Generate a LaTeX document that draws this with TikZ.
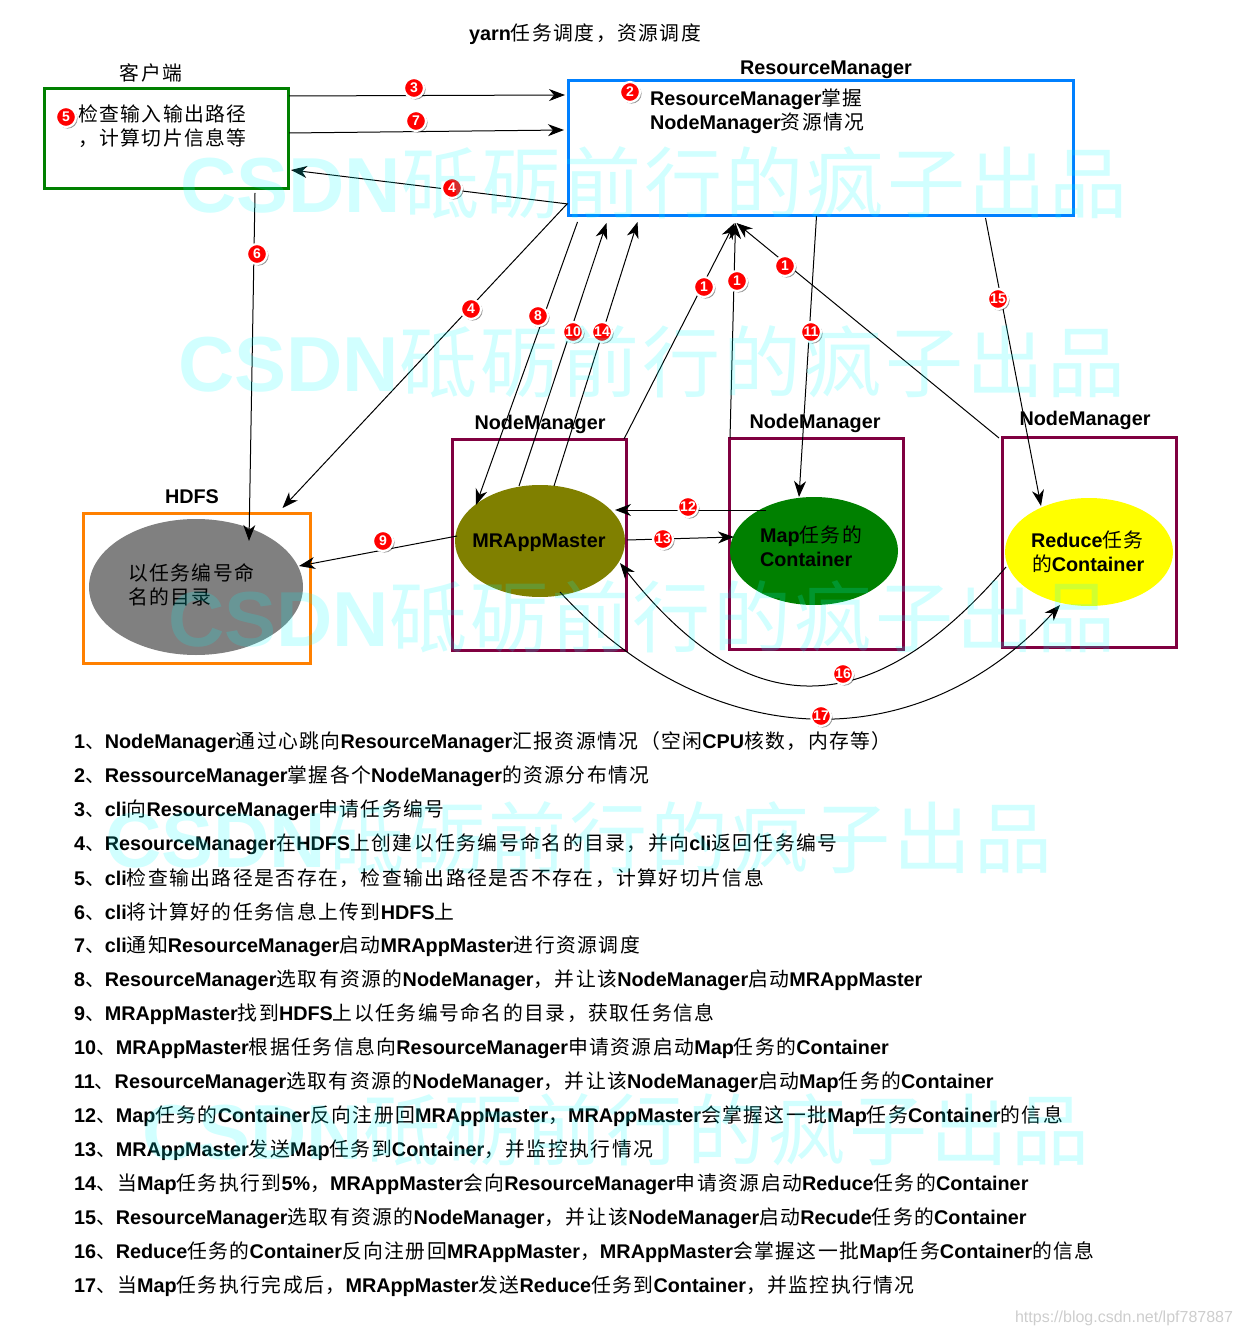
\documentclass[tikz,border=0pt]{standalone}
\usepackage{fontspec}
\usetikzlibrary{arrows.meta,shapes.geometric,shadows}
\setmainfont{Liberation Sans}
\newfontfamily\latf{Liberation Sans}
\newfontfamily\cjkf[LetterSpace=7.5]{Noto Sans CJK SC}
\newfontfamily\cjkw[LetterSpace=4]{Noto Sans CJK SC}
\newcommand{\tocjk}{\cjkf\mdseries}
\newcommand{\tolat}{\latf\bfseries}
% automatic switching between the Latin and the CJK font
\newcount\cc
\newcommand{\setcjkrange}[2]{\cc=#1 \loop\ifnum\cc<#2 \XeTeXcharclass\cc=9 \advance\cc by 1 \repeat}
\setcjkrange{"4E00}{"A000}
\setcjkrange{"3000}{"3040}
\setcjkrange{"FF00}{"FFF0}
\XeTeXinterchartoks 0 9 = {\tocjk}
\XeTeXinterchartoks 9 0 = {\tolat}
\XeTeXinterchartoks 4095 9 = {\tocjk}
\XeTeXinterchartoks 9 4095 = {\tolat}
\XeTeXinterchartokenstate=1
\definecolor{cgreen}{RGB}{0,128,0}
\definecolor{cblue}{RGB}{0,128,255}
\definecolor{corange}{RGB}{255,128,0}
\definecolor{cplum}{RGB}{128,0,64}
\definecolor{cgray}{RGB}{128,128,128}
\definecolor{colive}{RGB}{128,128,0}
\definecolor{cyellow}{RGB}{255,255,0}
\definecolor{curl}{RGB}{205,205,205}
\definecolor{cwater}{RGB}{0,255,255}
\tikzset{
  px/.style={x=0.5pt,y=-0.5pt},
  txt/.style={inner sep=0pt,outer sep=0pt,yshift=-0.5pt,font=\fontsize{9.9pt}{11pt}\selectfont\tolat},
  lft/.style={txt,anchor=west},
  boxc/.style={draw=#1,line width=1.5pt,inner sep=0pt,outer sep=0pt,rectangle},
  oval/.style={ellipse,fill=#1,inner sep=0pt,outer sep=0pt},
  badge/.style={circle,fill=red,draw=white,line width=1.1pt,minimum size=10pt,inner sep=0pt,outer sep=0pt,
    text=white,font=\fontsize{7pt}{8pt}\selectfont\tolat,
    drop shadow={shadow xshift=0.8pt,shadow yshift=-0.8pt,fill=black,opacity=.4}},
  arr/.style={draw=black,line width=0.5pt,-{Stealth[length=8pt,width=6pt,inset=2.5pt]}},
  wmark/.style={inner sep=0pt,outer sep=0pt,anchor=west,text=cwater,text opacity=.18,
    font=\fontsize{39pt}{40pt}\selectfont\tolat},
}
\newcommand{\wm}[2]{\node[wmark] (#1) at #2 {\def\tocjk{\cjkw\mdseries}CSDN砥砺前行的疯子出品};}
\begin{document}
\begin{tikzpicture}[px]
\useasboundingbox (0,0) rectangle (1242,1336);

% boxes
\node[boxc=cgreen,minimum width=122pt,minimum height=50pt] (client) at (166,139) {};
\node[boxc=cblue,minimum width=252.5pt,minimum height=67.5pt] (rm) at (820.5,148.5) {};
\node[boxc=corange,minimum width=113.5pt,minimum height=75pt] (hdfs) at (196.5,588) {};
\node[boxc=cplum,minimum width=87pt,minimum height=105.5pt] (nma) at (539,544.5) {};
\node[boxc=cplum,minimum width=87pt,minimum height=105.5pt] (nmb) at (816,543.5) {};
\node[boxc=cplum,minimum width=87pt,minimum height=105pt] (nmc) at (1089,542) {};

% ellipses
\node[oval=cgray,minimum width=107pt,minimum height=68pt] (dir) at (196,587) {};
\node[oval=colive,minimum width=85pt,minimum height=56pt] (mram) at (540,541) {};
\node[oval=cgreen,minimum width=84pt,minimum height=54pt] (mapc) at (814,551) {};
\node[oval=cyellow,minimum width=84pt,minimum height=54pt] (redc) at (1089,552) {};

% labels
\node[txt] (title) at (585,33) {yarn任务调度，资源调度};
\node[txt] (lclient) at (151,72) {客户端};
\node[txt] (lrm) at (826,69) {ResourceManager};
\node[lft] (trma) at (650,98) {ResourceManager掌握};
\node[lft] (trmb) at (650,122) {NodeManager资源情况};
\node[lft] (tca) at (78,113) {检查输入输出路径};
\node[lft] (tcb) at (78,137) {，计算切片信息等};
\node[txt] (lna) at (540,423) {NodeManager};
\node[txt] (lnb) at (815,422) {NodeManager};
\node[txt] (lnc) at (1085,419) {NodeManager};
\node[txt] (lh) at (192,496) {HDFS};
\node[lft] (tda) at (128,572) {以任务编号命};
\node[lft] (tdb) at (128,596) {名的目录};
\node[txt] (tm) at (539,542) {MRAppMaster};
\node[lft] (tmc) at (760,535) {Map任务的};
\node[lft] (tmd) at (760,558) {Container};
\node[lft] (tre) at (1031,539) {Reduce任务};
\node[lft] (trf) at (1032,563) {的Container};

% connectors
\draw[arr] ([shift={(1,-43)}]client.east) -- ([shift={(-3,-53.5)}]rm.west);
\draw[arr] ([shift={(1,-6)}]client.east) -- ([shift={(-4,-18.5)}]rm.west);
\draw[arr] ([shift={(0,55.5)}]rm.west) -- ([shift={(3,31)}]client.east);
\draw[arr] ([shift={(89,4)}]client.south) -- ([shift={(53,22)}]dir.north);
\draw[arr] ([shift={(-1,55.5)}]rm.west) -- ([shift={(86,-5)}]hdfs.north);
\draw[arr] ([shift={(-243,6)}]rm.south) -- ([shift={(21,-36)}]mram.west);
\draw[arr] ([shift={(-21,1)}]mram.north) -- ([shift={(-214,7)}]rm.south);
\draw[arr] ([shift={(14,1)}]mram.north) -- ([shift={(-183,6)}]rm.south);
\draw[arr] ([shift={(-2,0)}]nma.north east) -- ([shift={(-86,7)}]rm.south);
\draw[arr] ([shift={(1,0)}]nmb.north west) -- ([shift={(-85,7)}]rm.south);
\draw[arr] ([shift={(-3,1)}]nmc.north west) -- ([shift={(-84,7)}]rm.south);
\draw[arr] ([shift={(-4,0)}]rm.south) -- ([shift={(-15,0)}]mapc.north);
\draw[arr] ([shift={(165,2)}]rm.south) -- ([shift={(-48,8)}]redc.north);
\draw[arr] ([shift={(2,-5)}]mram.west) -- ([shift={(-4,-21)}]dir.east);
\draw[arr] ([shift={(36,-41)}]mapc.west) -- ([shift={(-10,-31)}]mram.east);
\draw[arr] ([shift={(2,-1)}]mram.east) -- ([shift={(4,-14)}]mapc.west);
\draw[arr] ([shift={(1,15)}]redc.west) .. controls (870,725) and (748,725) .. ([shift={(-5,22)}]mram.east);
\draw[arr] ([shift={(20,-5)}]mram.south) .. controls (713,758) and (920,758) .. ([shift={(-29,-1)}]redc.south);

% numbered badges
\node[badge] (b5) at (66,117) {5};
\node[badge] (b2) at (630,92) {2};
\node[badge] (b3) at (414,88) {3};
\node[badge] (b7) at (416,121) {7};
\node[badge] (b4a) at (452,188) {4};
\node[badge] (b6) at (257,254) {6};
\node[badge] (b4b) at (471,309) {4};
\node[badge] (b8) at (538,316) {8};
\node[badge] (b10) at (573,332) {10};
\node[badge] (b14) at (602,332) {14};
\node[badge] (b1a) at (704,287) {1};
\node[badge] (b1b) at (737,281) {1};
\node[badge] (b1c) at (785,266) {1};
\node[badge] (b11) at (811,332) {11};
\node[badge] (b15) at (998,299) {15};
\node[badge] (b9) at (383,541) {9};
\node[badge] (b12) at (688,507) {12};
\node[badge] (b13) at (663,539) {13};
\node[badge] (b16) at (843,674) {16};
\node[badge] (b17) at (821,716) {17};

% explanatory list
\node[lft] (n1) at (74,741) {1、NodeManager通过心跳向ResourceManager汇报资源情况（空闲CPU核数，内存等）};
\node[lft] (n2) at (74,775) {2、RessourceManager掌握各个NodeManager的资源分布情况};
\node[lft] (n3) at (74,809) {3、cli向ResourceManager申请任务编号};
\node[lft] (n4) at (74,843) {4、ResourceManager在HDFS上创建以任务编号命名的目录，并向cli返回任务编号};
\node[lft] (n5) at (74,877) {5、cli检查输出路径是否存在，检查输出路径是否不存在，计算好切片信息};
\node[lft] (n6) at (74,911) {6、cli将计算好的任务信息上传到HDFS上};
\node[lft] (n7) at (74,945) {7、cli通知ResourceManager启动MRAppMaster进行资源调度};
\node[lft] (n8) at (74,979) {8、ResourceManager选取有资源的NodeManager，并让该NodeManager启动MRAppMaster};
\node[lft] (n9) at (74,1013) {9、MRAppMaster找到HDFS上以任务编号命名的目录，获取任务信息};
\node[lft] (n10) at (74,1047) {10、MRAppMaster根据任务信息向ResourceManager申请资源启动Map任务的Container};
\node[lft] (n11) at (74,1081) {11、ResourceManager选取有资源的NodeManager，并让该NodeManager启动Map任务的Container};
\node[lft] (n12) at (74,1115) {12、Map任务的Container反向注册回MRAppMaster，MRAppMaster会掌握这一批Map任务Container的信息};
\node[lft] (n13) at (74,1149) {13、MRAppMaster发送Map任务到Container，并监控执行情况};
\node[lft] (n14) at (74,1183) {14、当Map任务执行到5\%，MRAppMaster会向ResourceManager申请资源启动Reduce任务的Container};
\node[lft] (n15) at (74,1217) {15、ResourceManager选取有资源的NodeManager，并让该NodeManager启动Recude任务的Container};
\node[lft] (n16) at (74,1251) {16、Reduce任务的Container反向注册回MRAppMaster，MRAppMaster会掌握这一批Map任务Container的信息};
\node[lft] (n17) at (74,1285) {17、当Map任务执行完成后，MRAppMaster发送Reduce任务到Container，并监控执行情况};

% watermarks
\wm{wa}{(180,183)}
\wm{wb}{(178,362)}
\wm{wc}{(168,617)}
\wm{wd}{(105,838)}
\wm{we}{(142,1130)}
\node[inner sep=0pt,outer sep=0pt,anchor=east,text=curl,font=\fontsize{8pt}{9pt}\selectfont\latf] (url) at (1233,1318) {https://blog.csdn.net/lpf787887};
\end{tikzpicture}
\end{document}
